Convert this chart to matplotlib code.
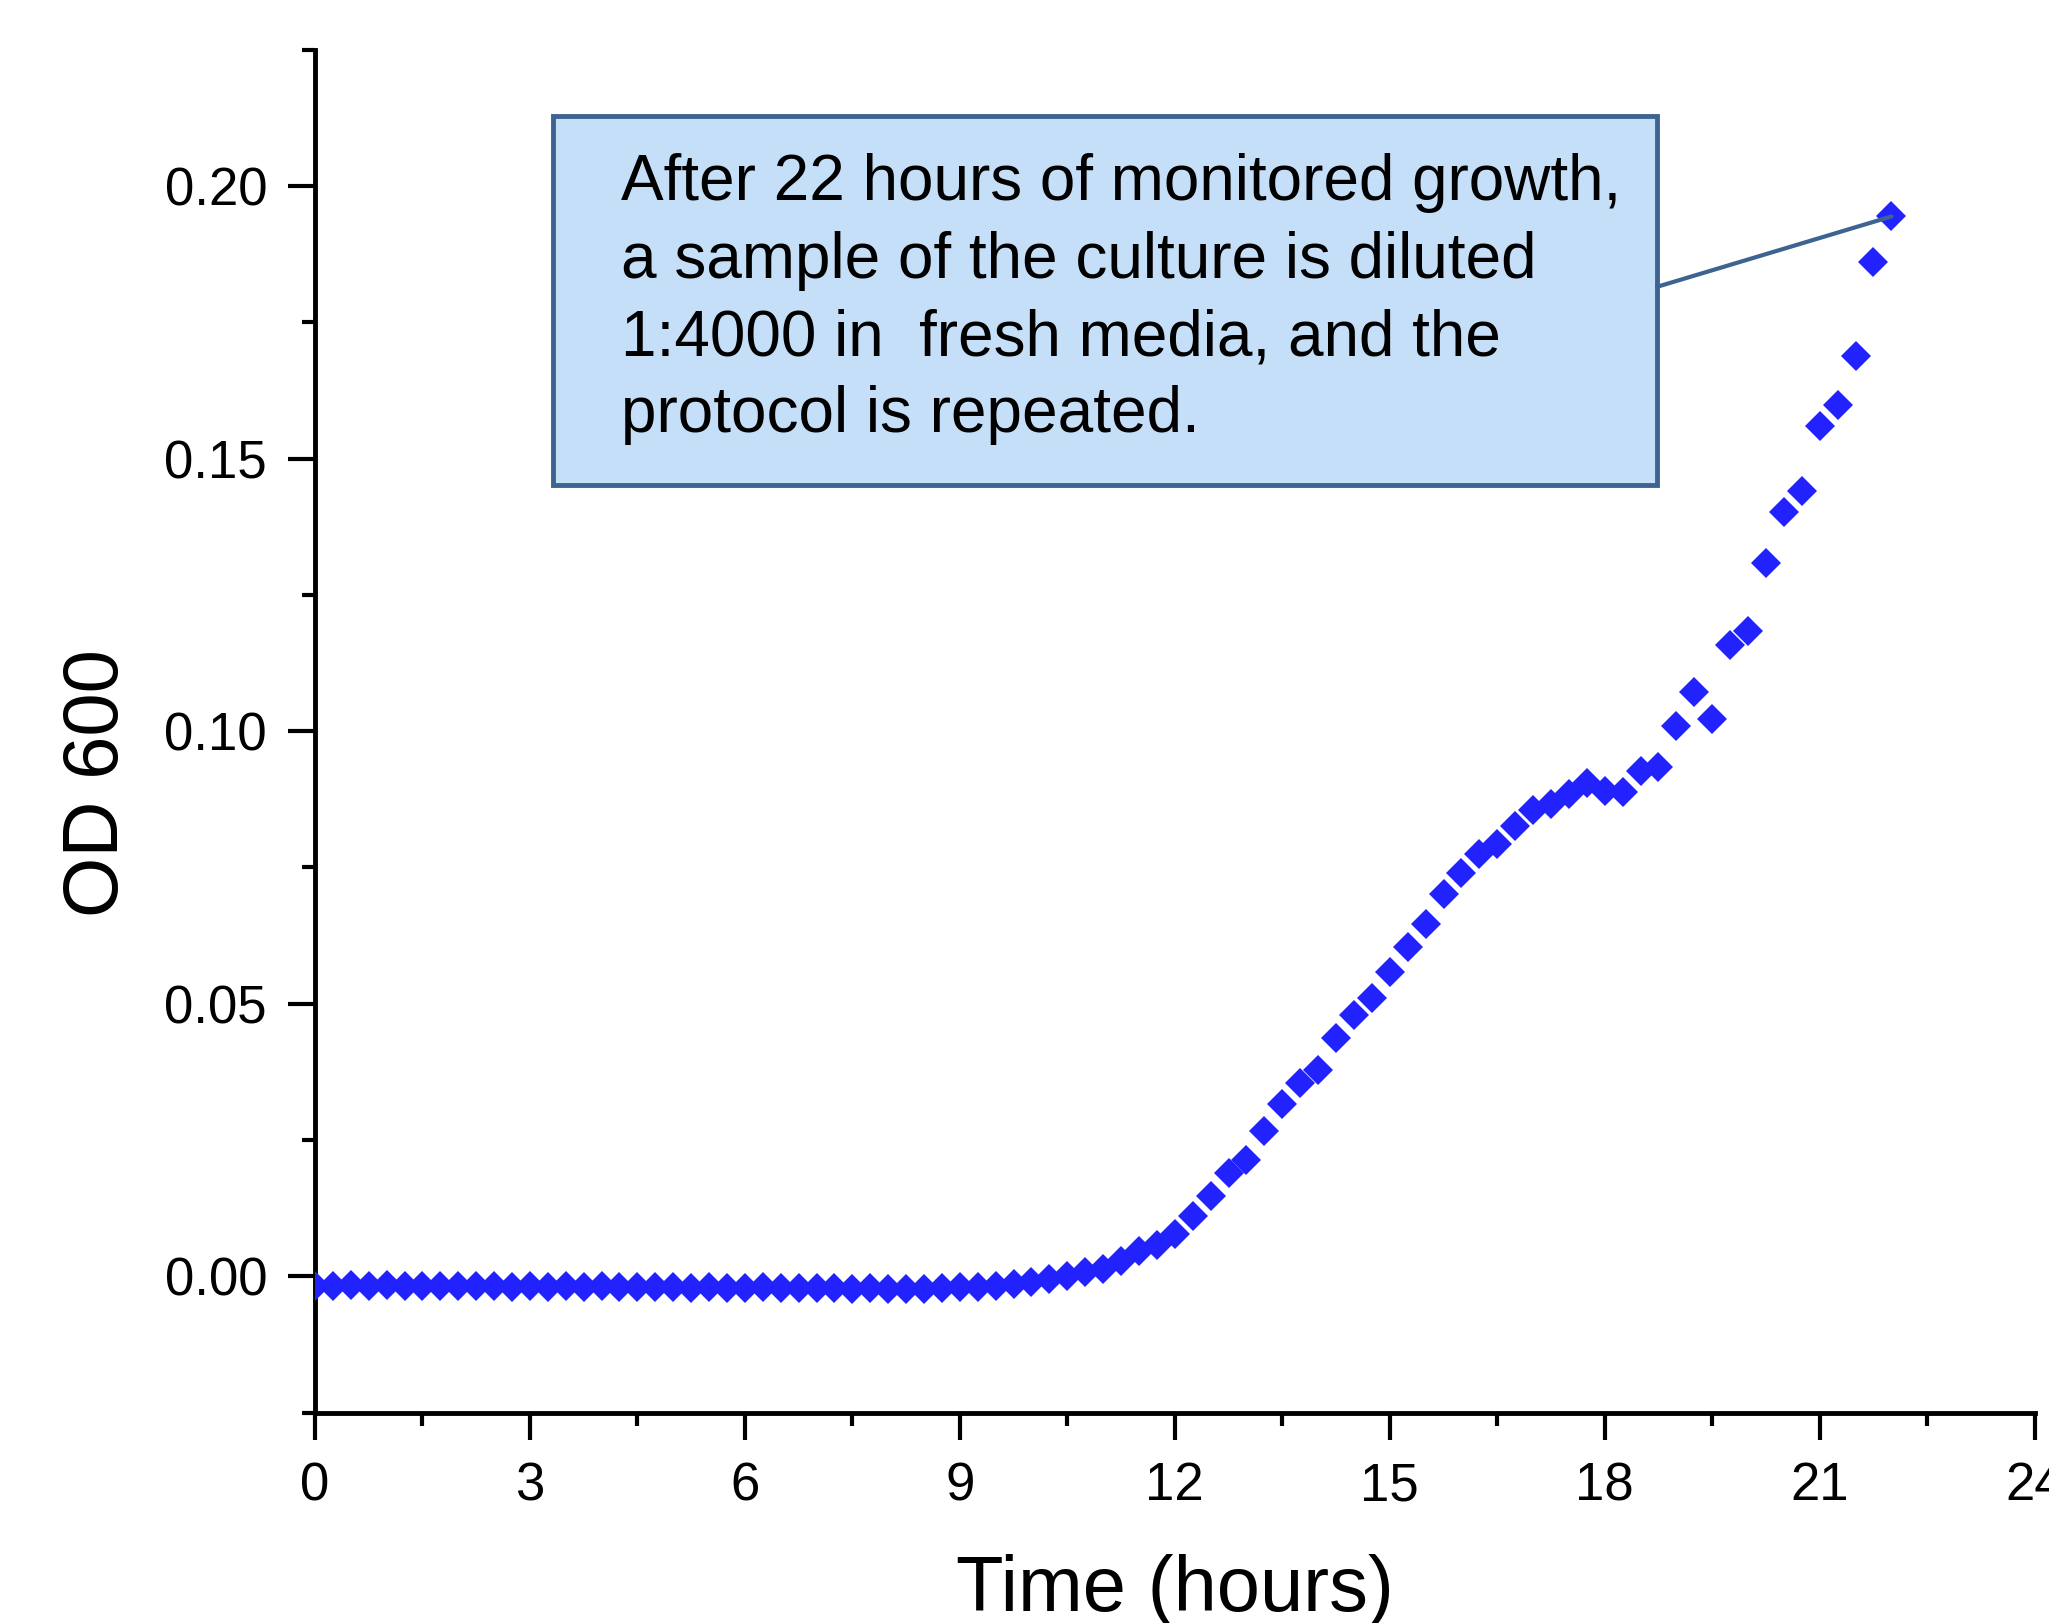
import matplotlib
matplotlib.use('Agg')
import matplotlib.pyplot as plt
from matplotlib.patches import Rectangle
from matplotlib.ticker import MultipleLocator, FormatStrFormatter

plt.rcParams['font.family'] = ['Liberation Sans', 'DejaVu Sans']

# sampling times, hours
time_h = [
    0.0, 0.25, 0.5, 0.75, 1.0, 1.25, 1.5, 1.75, 2.0, 2.25, 2.5, 2.75,
    3.0, 3.25, 3.5, 3.75, 4.0, 4.25, 4.5, 4.75, 5.0, 5.25, 5.5, 5.75,
    6.0, 6.25, 6.5, 6.75, 7.0, 7.25, 7.5, 7.75, 8.0, 8.25, 8.5, 8.75,
    9.0, 9.25, 9.5, 9.75, 10.0, 10.25, 10.5, 10.75, 11.0, 11.25, 11.5, 11.75,
    12.0, 12.25, 12.5, 12.75, 13.0, 13.25, 13.5, 13.75, 14.0, 14.25, 14.5, 14.75,
    15.0, 15.25, 15.5, 15.75, 16.0, 16.25, 16.5, 16.75, 17.0, 17.25, 17.5, 17.75,
    18.0, 18.25, 18.5, 18.75, 19.0, 19.25, 19.5, 19.75, 20.0, 20.25, 20.5, 20.75,
    21.0, 21.25, 21.5, 21.75, 22.0,
]

# optical density at 600 nm
od600 = [
    -0.0017, -0.0018, -0.0016, -0.0017, -0.0016, -0.0018, -0.0018, -0.0017,
    -0.0018, -0.0017, -0.0018, -0.0019, -0.0018, -0.0019, -0.0018, -0.0019,
    -0.0018, -0.0020, -0.0019, -0.0020, -0.0020, -0.0021, -0.0020, -0.0021,
    -0.0021, -0.0020, -0.0022, -0.0021, -0.0022, -0.0022, -0.0023, -0.0022,
    -0.0023, -0.0023, -0.0023, -0.0022, -0.0019, -0.0019, -0.0017, -0.0014,
    -0.0011, -0.0005, 0.0000, 0.0008, 0.0014, 0.0029, 0.0046, 0.0058,
    0.0078, 0.0110, 0.0147, 0.0189, 0.0214, 0.0266, 0.0316, 0.0355,
    0.0378, 0.0437, 0.0479, 0.0510, 0.0558, 0.0604, 0.0647, 0.0701,
    0.0740, 0.0774, 0.0793, 0.0826, 0.0855, 0.0866, 0.0885, 0.0905,
    0.0891, 0.0889, 0.0927, 0.0934, 0.1010, 0.1072, 0.1022, 0.1158,
    0.1183, 0.1309, 0.1402, 0.1440, 0.1560, 0.1598, 0.1689, 0.1861,
    0.1944,
]

note_text = ("After 22 hours of monitored growth,\n"
             "a sample of the culture is diluted\n"
             "1:4000 in  fresh media, and the\n"
             "protocol is repeated.")

fig = plt.figure(figsize=(20.49, 16.23), dpi=100)
ax = fig.add_axes([0.1537, 0.1296, 0.8393, 0.8398])

ax.plot(time_h, od600, linestyle='none', marker='D', markersize=15.5,
        color='#2222ff', markeredgewidth=0, zorder=3)

ax.set_xlim(0, 24)
ax.set_ylim(-0.025, 0.225)

# оси в стиле Origin: только слева и снизу
for side in ('top', 'right'):
    ax.spines[side].set_visible(False)
for side in ('left', 'bottom'):
    ax.spines[side].set_linewidth(3.5)

ax.xaxis.set_major_locator(MultipleLocator(3))
ax.xaxis.set_minor_locator(MultipleLocator(1.5))
ax.yaxis.set_major_locator(MultipleLocator(0.05))
ax.yaxis.set_minor_locator(MultipleLocator(0.025))
ax.yaxis.set_major_formatter(FormatStrFormatter('%.2f'))

ax.tick_params(which='major', direction='out', length=19.5, width=3, labelsize=38)
ax.tick_params(which='minor', direction='out', length=9.5, width=3)
ax.tick_params(axis='x', which='major', pad=15.5)
ax.tick_params(axis='y', which='major', pad=15)

ax.set_xlabel('Time (hours)', fontsize=56, labelpad=31)
ax.set_ylabel('OD 600', fontsize=56, labelpad=22)
ax.yaxis.label.set_y(0.462)

# выноска с пояснением
box = Rectangle((0.1383, 0.6808), 0.7804 - 0.1383, 0.9511 - 0.6808,
                transform=ax.transAxes, facecolor='#c6dff8', edgecolor='#3d6390',
                linewidth=3.5, zorder=4)
ax.add_patch(box)
ax.text(0.1778, 0.924, note_text, transform=ax.transAxes, fontsize=46,
        ha='left', va='top', linespacing=1.37, zorder=5)

ax.annotate('', xy=(time_h[-1], od600[-1]), xycoords='data',
            xytext=(0.7804, 0.826), textcoords='axes fraction',
            arrowprops=dict(arrowstyle='-', color='#3d6390', linewidth=3,
                            shrinkA=0, shrinkB=0), zorder=4)

fig.savefig('out.png', dpi=100)
